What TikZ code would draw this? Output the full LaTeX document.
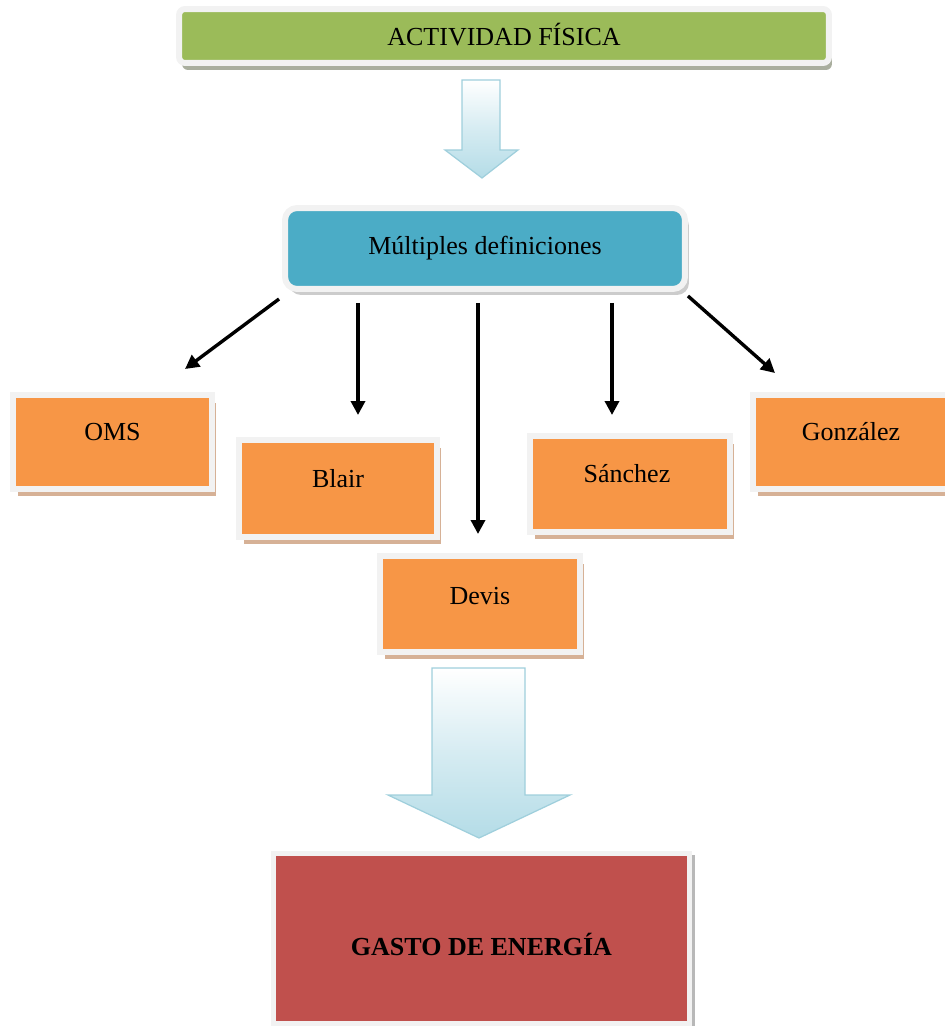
\documentclass[tikz,border=0pt]{standalone}
\usepackage{fontspec}
\setmainfont{Liberation Serif}
\usetikzlibrary{calc,shadows,arrows.meta}
\definecolor{actgreen}{HTML}{9BBB59}
\definecolor{defblue}{HTML}{4BACC6}
\definecolor{autorange}{HTML}{F79646}
\definecolor{gastored}{HTML}{C0504D}
\definecolor{framegray}{HTML}{F2F2F2}
\definecolor{tanshadow}{HTML}{D6B196}
\definecolor{grayshadow}{HTML}{A9AE9E}
\definecolor{arrowblue}{HTML}{B4DCE7}
\definecolor{arrowedge}{HTML}{9FCFDC}
\tikzset{
  boxfont/.style={font=\fontsize{14.8}{17}\selectfont},
  boxbase/.style={rectangle, draw=framegray, line width=0.12cm, inner sep=0pt, boxfont},
  authorbox/.style={boxbase, fill=autorange, minimum width=4cm, minimum height=1.92cm,
    general shadow={fill=tanshadow, shadow xshift=0.09cm, shadow yshift=-0.15cm}},
  authortext/.style={boxfont, yshift=0.2cm},
  conn/.style={line width=0.068cm, -{Triangle[length=0.28cm,width=0.28cm]}},
  blockarrow/.style={draw=arrowedge, line width=0.025cm, top color=white, bottom color=arrowblue,
    middle color=arrowblue!55}
}
\begin{document}
\begin{tikzpicture}[x=0.02cm, y=-0.02cm]
\useasboundingbox (0,0) rectangle (944,1027);

% title box
\node[boxbase, fill=actgreen, rounded corners=0.12cm, minimum width=13cm, minimum height=1.08cm,
  general shadow={fill=grayshadow, shadow xshift=0.06cm, shadow yshift=-0.14cm}]
  (act) at (504,36) {\raisebox{0.06cm}{ACTIVIDAD FÍSICA}};

% small block arrow
\path[blockarrow] (462,80) -- (500,80) -- (500,150) -- (518,150) -- (482,178)
  -- (445,150) -- (462,150) -- cycle;

% definitions box
\node[boxbase, fill=defblue, rounded corners=0.24cm, minimum width=8cm, minimum height=1.62cm,
  general shadow={fill=black!20, shadow xshift=0.08cm, shadow yshift=-0.12cm}]
  (multi) at (485,248.5) {Múltiples definiciones};

% author boxes
\node[authorbox, minimum width=3.98cm, minimum height=1.88cm] (oms) at (112.5,442)
  {}; \node[authortext] (omst) at (oms) {OMS};
\node[authorbox, minimum width=3.96cm, minimum height=1.94cm] (blair) at (338,488.5)
  {}; \node[authortext] (blairt) at (blair) {Blair};
\node[authorbox] (devis) at (480,604)
  {}; \node[authortext, yshift=-0.04cm] (devist) at (devis) {Devis};
\node[authorbox] (sanchez) at (630,484)
  {}; \node[authortext, xshift=-0.06cm] (sanchezt) at (sanchez) {Sánchez};
\node[authorbox, minimum height=1.88cm] (gonz) at (853,442)
  {}; \node[authortext, xshift=-0.04cm] (gonzt) at (gonz) {González};

% connectors
\draw[conn] ($(multi.south west)+(-3,7)$) -- ($(oms.north)+(72.5,-23)$);
\draw[conn] ($(multi.south)+(-127,11)$) -- ($(blair.north)+(20,-22)$);
\draw[conn] ($(multi.south)+(-7,11)$) -- ($(devis.north)+(-2,-19)$);
\draw[conn] ($(multi.south)+(127,11)$) -- ($(sanchez.north)+(-18,-18)$);
\draw[conn] ($(multi.south east)+(0,4)$) -- ($(gonz.north)+(-78,-19)$);

% large block arrow
\path[blockarrow] (432,668) -- (525,668) -- (525,795) -- (570,795) -- (479,838)
  -- (388,795) -- (432,795) -- cycle;

% result box
\node[boxbase, fill=gastored, line width=0.1cm, minimum width=8.34cm, minimum height=3.42cm,
  general shadow={fill=black!28, shadow xshift=0.1cm, shadow yshift=-0.04cm}]
  (gasto) at (481.5,938.5) {};
\node[font=\fontsize{14.8}{17}\selectfont\bfseries, yshift=-0.12cm] (gastot) at (gasto)
  {GASTO DE ENERGÍA};
\end{tikzpicture}
\end{document}
